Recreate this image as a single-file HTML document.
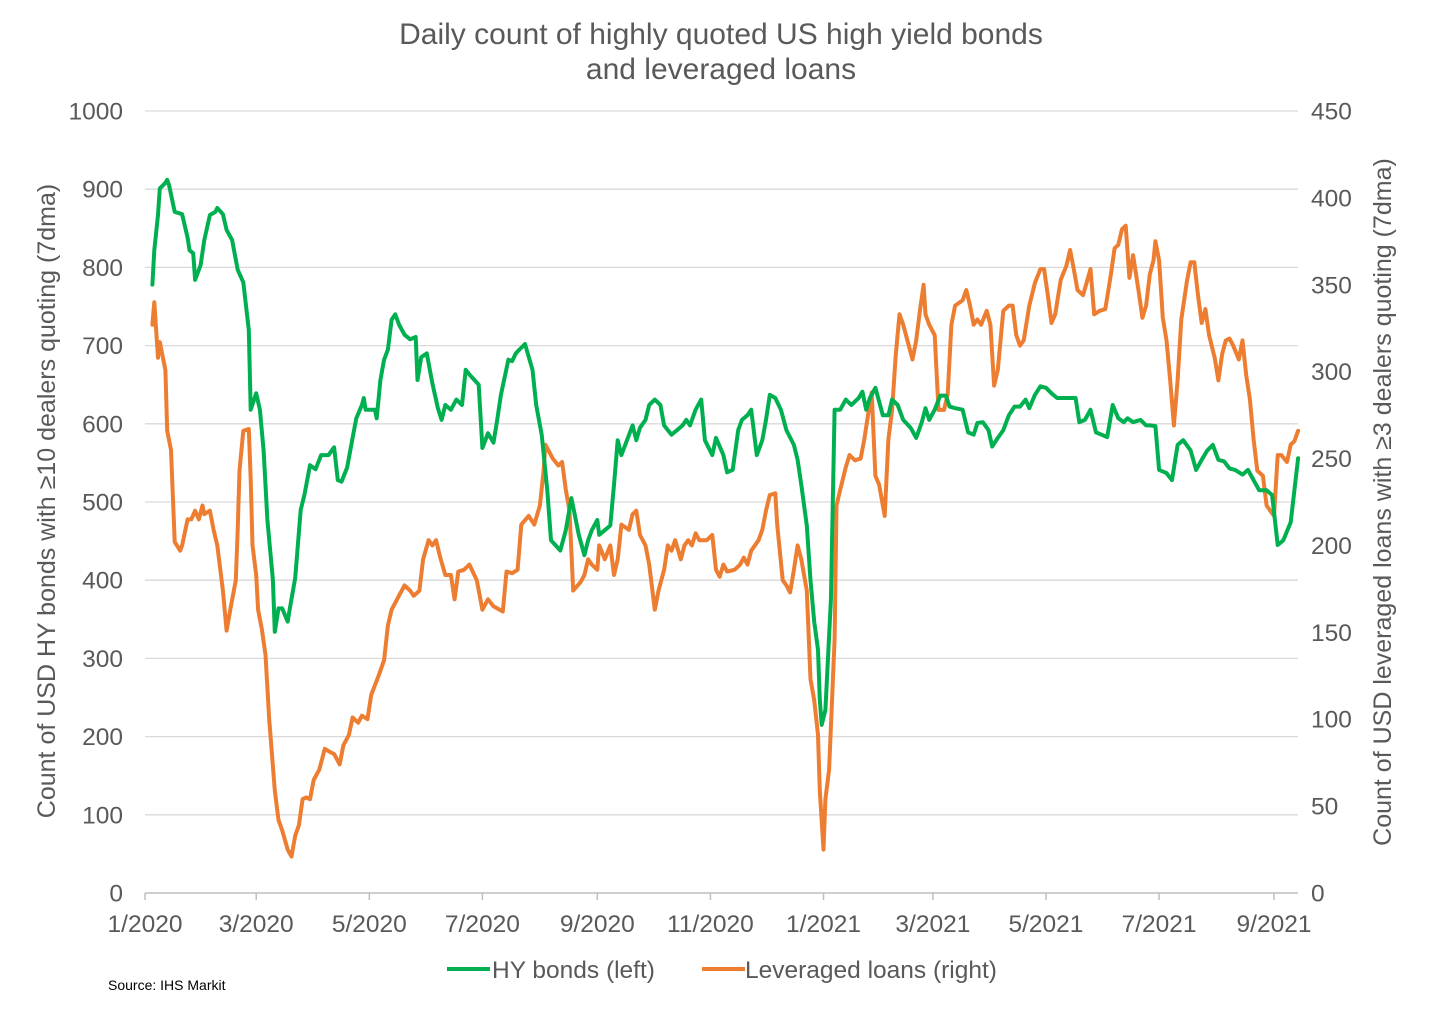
<!DOCTYPE html>
<html><head><meta charset="utf-8">
<style>
html,body{margin:0;padding:0;background:#fff;}
svg text{font-family:"Liberation Sans",Arial,sans-serif;}
</style></head>
<body>
<svg id="chart" width="1442" height="1006" viewBox="0 0 1442 1006" xmlns="http://www.w3.org/2000/svg">
<text x="721" y="44" text-anchor="middle" font-size="30" fill="#595959">Daily count of highly quoted US high yield bonds</text>
<text x="721" y="79" text-anchor="middle" font-size="30" fill="#595959">and leveraged loans</text>
<g id="grid"></g>
<g id="axes"></g>
<g id="series"></g>
<text transform="translate(55,501) rotate(-90)" text-anchor="middle" font-size="25" fill="#595959">Count of USD HY bonds with ≥10 dealers quoting (7dma)</text>
<text transform="translate(1391,502) rotate(-90)" text-anchor="middle" font-size="25" fill="#595959">Count of USD leveraged loans with ≥3 dealers quoting (7dma)</text>
<g>
<line x1="447" y1="969" x2="490" y2="969" stroke="#00b050" stroke-width="4"/>
<text x="492" y="978" font-size="24.5" fill="#595959">HY bonds (left)</text>
<line x1="702" y1="969" x2="745" y2="969" stroke="#ed7d31" stroke-width="4"/>
<text x="745" y="978" font-size="24.5" fill="#595959">Leveraged loans (right)</text>
</g>
<text x="108" y="990" font-size="14" fill="#000">Source: IHS Markit</text>
</svg>
<script>
const xTickLabels=["1/2020","3/2020","5/2020","7/2020","9/2020","11/2020","1/2021","3/2021","5/2021","7/2021","9/2021"];
const xTickDays=[0,60,121,182,244,305,366,425,486,547,609];
const leftTicks=[0,100,200,300,400,500,600,700,800,900,1000];
const rightTicks=[0,50,100,150,200,250,300,350,400,450];
const hyDays=[4,5,7,8,11,12,13,16,20,23,24,26,27,30,32,35,38,39,42,44,47,50,53,56,57,60,62,64,66,69,70,72,74,77,78,81,84,86,89,92,95,99,102,104,106,109,112,114,117,118,119,124,125,127,129,131,133,135,137,140,143,146,147,149,152,155,158,160,162,165,168,171,173,175,180,182,185,188,190,192,196,198,200,202,205,209,211,214,217,219,224,227,230,234,237,239,241,244,245,248,251,253,255,257,260,263,265,267,270,272,275,278,280,284,287,290,292,294,297,300,302,306,308,312,314,317,320,322,325,327,330,333,335,337,340,343,346,350,352,354,357,359,361,363,364,365,367,370,372,375,378,381,385,387,389,391,394,398,401,403,406,409,413,416,419,421,423,426,429,432,434,437,441,444,447,449,452,455,457,460,463,466,469,472,475,477,480,483,486,489,492,496,499,502,504,507,510,513,516,519,522,525,528,530,533,537,540,542,545,547,551,554,557,560,564,567,570,573,576,579,582,585,588,592,595,598,601,605,608,611,614,618,620,622];
const hyValues=[778,822,867,901,908,912,905,871,868,838,822,818,784,803,835,867,871,876,868,848,835,797,781,720,618,639,618,566,477,400,334,364,364,347,362,403,490,509,547,542,560,560,570,528,526,544,582,607,624,633,618,618,607,656,682,695,733,740,727,714,708,711,656,685,690,652,620,605,624,618,631,624,669,663,650,569,588,576,605,637,682,680,690,695,702,669,624,586,515,451,438,464,505,458,432,451,464,477,458,464,470,522,579,560,579,598,579,595,605,624,631,624,598,586,592,598,605,598,618,631,579,560,582,560,538,541,592,605,611,618,560,579,605,637,633,618,592,573,554,522,470,400,347,311,247,215,234,375,618,618,631,624,633,641,618,633,646,611,611,631,624,605,595,582,602,620,605,618,636,636,622,620,618,589,586,601,602,592,571,582,592,611,622,622,631,620,637,648,646,639,633,633,633,633,602,605,618,589,586,583,624,607,602,607,602,605,598,598,597,541,537,528,573,579,566,541,554,566,573,554,552,543,541,535,541,528,515,515,509,445,451,474,515,556];
const loanDays=[4,5,7,8,11,12,14,16,19,20,23,25,27,29,31,32,35,37,39,42,44,46,49,50,51,53,56,57,58,60,61,63,65,67,70,72,74,77,79,81,83,85,87,89,91,94,97,100,102,105,107,110,112,115,117,120,122,126,129,131,133,136,140,143,145,148,150,153,155,157,159,162,165,167,169,172,175,179,182,185,188,193,195,198,201,203,207,210,213,215,216,220,223,225,227,229,231,235,237,239,241,244,245,248,251,253,255,257,261,263,265,267,270,272,275,277,280,282,284,286,289,291,293,295,297,299,303,306,308,310,312,314,318,321,323,325,327,331,333,335,337,340,341,344,346,348,350,352,354,357,359,361,363,364,366,367,369,372,373,375,378,380,383,386,388,390,392,394,396,399,401,403,405,407,409,412,414,416,418,420,421,423,426,428,431,433,435,437,441,443,445,447,449,451,454,456,458,460,463,466,468,470,472,474,477,480,483,485,487,489,491,494,497,499,501,503,506,510,512,515,518,521,523,525,527,529,531,533,536,538,540,542,544,545,547,549,551,553,555,557,559,562,564,566,568,570,572,574,577,579,581,583,585,587,590,592,594,596,598,600,603,605,607,609,611,613,616,618,620,622];
const loanValues=[327,340,308,317,301,266,255,202,197,200,215,215,220,215,223,218,220,209,200,174,151,163,180,209,243,266,267,238,200,183,163,152,137,100,59,42,36,25,21,33,39,54,55,54,65,71,83,81,80,74,85,91,101,98,102,100,114,125,134,154,163,169,177,174,171,174,192,203,200,203,194,183,183,169,185,186,189,180,163,169,165,162,185,184,186,212,217,212,223,243,258,250,246,248,232,220,174,179,183,192,189,186,200,192,200,183,192,212,209,218,220,206,200,189,163,174,186,200,197,203,192,200,203,200,207,203,203,206,186,182,189,185,186,189,193,189,197,203,209,220,229,230,212,180,177,173,186,200,192,174,123,111,91,59,25,54,71,146,223,232,245,252,249,250,261,275,288,240,235,217,261,278,310,333,327,315,307,318,335,350,333,327,321,278,278,287,327,338,341,347,338,327,330,327,335,327,292,301,335,338,338,321,315,318,338,351,359,359,344,328,333,353,361,370,359,347,344,359,333,335,336,356,371,373,382,384,354,367,346,331,338,356,364,375,364,331,318,295,269,295,330,352,363,363,344,328,336,321,308,295,310,318,319,315,307,318,298,284,261,243,240,223,220,217,252,252,248,258,260,266];

const X0=145,X1=1298,Y0=893,Y1=111,PX_PER_DAY=(1274-145)/609;
const xs=d=>X0+d*PX_PER_DAY;
const yL=v=>Y0-(v/1000)*(Y0-Y1);
const yR=v=>Y0-(v/450)*(Y0-Y1);
const NS="http://www.w3.org/2000/svg";
function mk(tag,attrs,parent){const e=document.createElementNS(NS,tag);for(const k in attrs)e.setAttribute(k,attrs[k]);parent.appendChild(e);return e;}
const grid=document.getElementById('grid'),axes=document.getElementById('axes'),series=document.getElementById('series');
leftTicks.forEach(v=>{
  if(v>0){const g=mk('line',{x1:X0,x2:X1,y1:yL(v),y2:yL(v),stroke:'#d9d9d9','stroke-width':1.3},grid);
  
  }
  const t=mk('text',{x:123,y:yL(v)+8.5,'text-anchor':'end','font-size':24.5,fill:'#595959'},axes);t.textContent=v;
  
  
});
rightTicks.forEach(v=>{
  const t=mk('text',{x:1311,y:yR(v)+8.5,'font-size':24.5,fill:'#595959'},axes);t.textContent=v;
  
  
});
const ax=mk('line',{x1:X0,x2:X1,y1:Y0,y2:Y0,stroke:'#bfbfbf','stroke-width':1.5},axes);


xTickDays.forEach((d,i)=>{
  const tk=mk('line',{x1:xs(d),x2:xs(d),y1:Y0,y2:Y0+7,stroke:'#bfbfbf','stroke-width':1.5},axes);
  
  
  const t=mk('text',{x:xs(d),y:932,'text-anchor':'middle','font-size':24.5,fill:'#595959'},axes);t.textContent=xTickLabels[i];
  
  
});
function path(days,vals,yf,color,name){
  const d=days.map((dd,i)=>(i?'L':'M')+xs(dd).toFixed(1)+','+yf(vals[i]).toFixed(1)).join('');
  const p=mk('path',{d:d,fill:'none',stroke:color,'stroke-width':4,'stroke-linejoin':'round','stroke-linecap':'round'},series);
  
  
}
path(loanDays,loanValues,yR,'#ed7d31','leveraged-loans-line');
path(hyDays,hyValues,yL,'#00b050','hy-bonds-line');
</script>
</body></html>
